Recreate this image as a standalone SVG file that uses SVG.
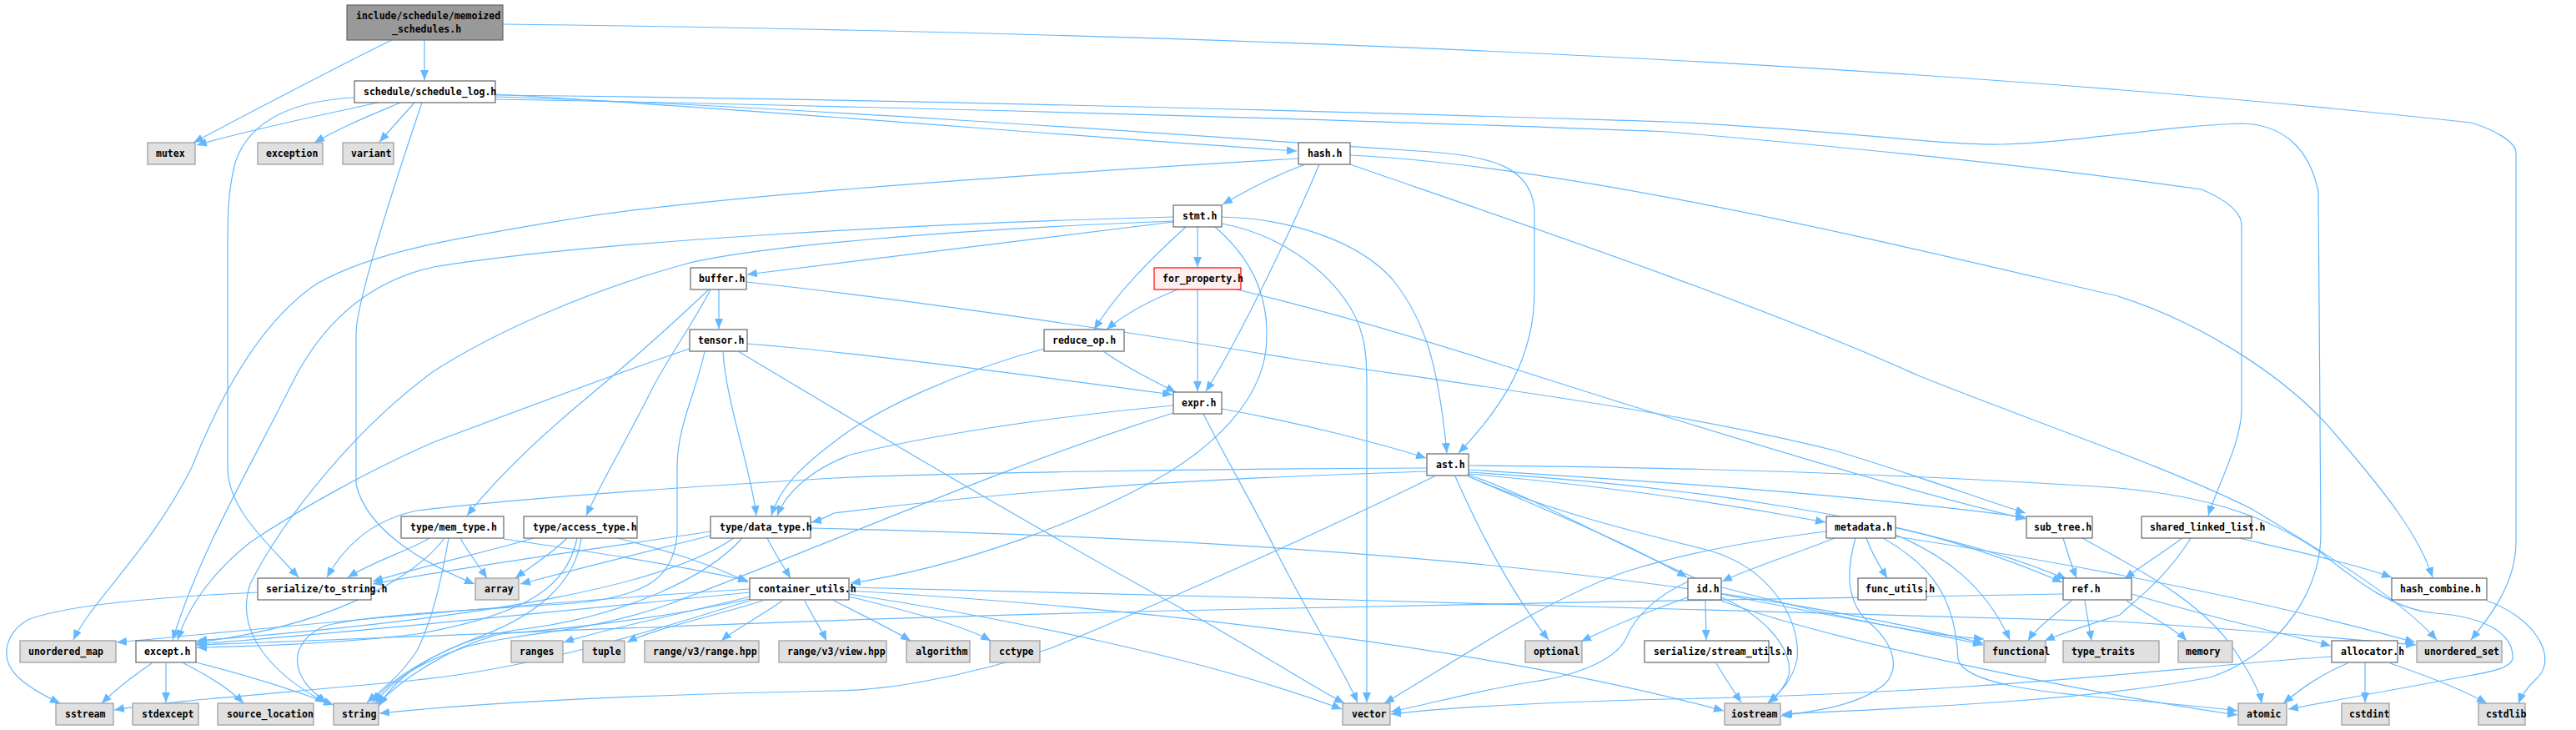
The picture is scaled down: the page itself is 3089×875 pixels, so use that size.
<svg xmlns="http://www.w3.org/2000/svg" width="3089" height="875" viewBox="0 0 3089 875">
<style>
.e{fill:none;stroke:#63b8ff;stroke-width:1.2;marker-end:url(#a)}
.w rect{fill:#ffffff;stroke:#666666;stroke-width:1.2}
.g rect{fill:#e0e0e0;stroke:#999999;stroke-width:1.2}
.r rect{fill:#999999;stroke:#666666;stroke-width:1.2}
.p rect{fill:#fff0f0;stroke:#ff0000;stroke-width:1.2}
text{font-family:"DejaVu Sans Mono","Liberation Mono",monospace;font-size:11.5px;font-weight:bold;fill:#000000}
</style>
<defs>
<marker id="a" viewBox="0 0 12 10" markerWidth="12" markerHeight="10" refX="12" refY="5" orient="auto" markerUnits="userSpaceOnUse"><path d="M0,0L12,5L0,10z" fill="#63b8ff"/></marker>
</defs>
<rect x="0" y="0" width="3089" height="875" fill="#ffffff"/>
<g id="edges">
<path class="e" d="M509,48 L509,96"/>
<path class="e" d="M470,48 C420,72 280,145 232,171"/>
<path class="e" d="M603,29 C1500,40 2300,75 2963,147 C2990,155 3017,170 3017,183 L3017,650 C3017,700 2985,740 2963,767"/>
<path class="e" d="M453,123 C400,135 300,155 236,174"/>
<path class="e" d="M480,123 C440,140 410,152 377,171"/>
<path class="e" d="M497,123 L455,170"/>
<path class="e" d="M425,117 C360,120 300,140 282,195 C273,230 273,260 273,300 L273,560 C273,610 320,650 358,692"/>
<path class="e" d="M506,123 C480,200 427,360 427,400 L427,580 C440,640 520,680 569,700"/>
<path class="e" d="M594,113 C900,130 1300,165 1555,181"/>
<path class="e" d="M594,116 C900,125 1400,160 1700,181 C1790,186 1835,200 1840,250 L1840,350 C1840,430 1800,490 1749,543"/>
<path class="e" d="M594,114 C1200,120 1800,140 2000,146 C2200,155 2330,175 2400,173 C2500,170 2600,150 2690,148 C2740,150 2770,180 2780,230 L2783,640 C2783,720 2720,790 2650,812 C2500,840 2300,848 2137,856"/>
<path class="e" d="M594,119 C1200,130 1800,150 2000,158 C2200,175 2450,200 2640,227 C2670,240 2688,255 2688,270 L2688,490 C2688,530 2660,580 2648,618"/>
<path class="e" d="M1565,197 C1530,210 1500,225 1466,245"/>
<path class="e" d="M1582,197 C1560,250 1490,400 1446,469"/>
<path class="e" d="M1557,190 C1300,205 900,230 700,260 C550,285 450,300 380,340 C320,380 270,460 230,560 C180,660 110,720 88,767"/>
<path class="e" d="M1619,186 C1900,200 2300,300 2540,355 C2650,390 2750,460 2800,520 C2860,590 2900,640 2917,692"/>
<path class="e" d="M1619,197 C1800,260 2100,360 2300,450 C2450,510 2600,560 2700,610 C2800,670 2880,720 2922,767"/>
<path class="e" d="M1407,266 C1200,290 1000,315 896,329"/>
<path class="e" d="M1436,272 L1436,320"/>
<path class="e" d="M1422,272 C1380,310 1340,350 1312,395"/>
<path class="e" d="M1407,260 C1100,268 700,290 520,320 C430,340 380,400 350,460 C300,560 240,660 207,767"/>
<path class="e" d="M1407,265 C1150,275 900,295 820,317 C700,350 590,400 520,445 C430,510 340,620 300,700 C280,760 330,810 390,842"/>
<path class="e" d="M1465,260 C1550,262 1630,290 1670,335 C1710,385 1725,440 1735,543"/>
<path class="e" d="M1465,268 C1530,280 1590,320 1620,370 C1638,400 1639,430 1639,460 L1639,842"/>
<path class="e" d="M1457,272 C1495,305 1525,350 1518,420 C1510,480 1460,530 1400,567 C1300,625 1150,680 1020,699"/>
<path class="e" d="M862,347 L862,394"/>
<path class="e" d="M850,347 C810,385 760,430 700,480 C640,530 590,580 560,618"/>
<path class="e" d="M852,347 C830,390 800,430 780,470 C750,530 720,580 703,618"/>
<path class="e" d="M895,338 C1100,360 1400,405 1550,430 C1750,460 2000,490 2200,540 C2300,570 2380,600 2429,615"/>
<path class="e" d="M1412,347 C1380,360 1350,375 1327,395"/>
<path class="e" d="M1436,347 L1436,469"/>
<path class="e" d="M1483,347 C1600,375 1700,405 1800,437 C1950,485 2250,580 2429,622"/>
<path class="e" d="M896,412 C1000,420 1200,445 1406,473"/>
<path class="e" d="M867,421 C870,480 900,560 907,618"/>
<path class="e" d="M885,421 C950,460 1200,610 1400,720 C1500,775 1560,815 1612,843"/>
<path class="e" d="M827,418 C760,440 600,500 520,530 C440,565 360,610 300,650 C250,690 225,730 213,767"/>
<path class="e" d="M845,421 C835,470 812,510 812,560 L812,640 C808,690 780,712 700,722 C600,730 450,735 390,750 C345,770 345,810 392,842"/>
<path class="e" d="M1252,418 C1150,445 1050,490 1000,530 C960,560 935,585 925,618"/>
<path class="e" d="M1323,421 C1350,440 1380,455 1410,470"/>
<path class="e" d="M1465,490 C1550,505 1650,530 1710,549"/>
<path class="e" d="M1407,486 C1250,500 1100,525 1020,545 C980,560 945,585 932,618"/>
<path class="e" d="M1443,496 C1470,550 1500,600 1530,660 C1570,740 1610,800 1628,842"/>
<path class="e" d="M1407,495 C1200,560 1000,650 800,725 C700,760 620,758 560,775 C500,795 470,815 450,843"/>
<path class="e" d="M1711,561 C1400,562 1100,568 1000,573 C800,585 600,600 500,612 C440,625 410,660 392,692"/>
<path class="e" d="M1711,565 C1400,575 1200,590 1000,615 C990,620 985,623 973,626"/>
<path class="e" d="M1720,571 C1600,630 1400,720 1260,777 C1150,815 1050,828 1000,828 C800,832 600,840 455,855"/>
<path class="e" d="M1761,568 C1900,580 2050,600 2189,626"/>
<path class="e" d="M1761,571 C1850,610 1950,650 2023,692"/>
<path class="e" d="M1745,571 C1780,650 1820,720 1857,767"/>
<path class="e" d="M1761,563 C1950,575 2200,590 2429,620"/>
<path class="e" d="M1761,566 C2000,580 2300,620 2478,694"/>
<path class="e" d="M1761,569 C1850,600 1950,660 2050,700 C2200,740 2300,760 2379,766"/>
<path class="e" d="M1761,558 C2100,560 2400,575 2540,585 C2650,595 2720,620 2780,660 C2830,700 2870,730 2920,735 C2990,740 3015,765 3013,790 C3010,800 2990,805 2960,810 C2880,825 2800,840 2744,850"/>
<path class="e" d="M1761,571 C1850,610 1950,635 2050,660 C2120,680 2160,740 2155,790 C2150,815 2135,830 2120,842"/>
<path class="e" d="M2200,645 C2150,665 2100,680 2065,697"/>
<path class="e" d="M2238,645 C2245,665 2255,680 2263,693"/>
<path class="e" d="M2273,632 C2350,650 2420,675 2473,698"/>
<path class="e" d="M2273,641 C2330,665 2380,700 2410,767"/>
<path class="e" d="M2225,645 C2215,680 2212,720 2240,745 C2270,770 2280,800 2260,820 C2230,845 2180,852 2136,858"/>
<path class="e" d="M2258,645 C2320,680 2345,720 2348,790 C2355,820 2450,830 2540,838 C2600,843 2650,848 2683,852"/>
<path class="e" d="M2190,637 C2100,648 2020,663 1950,685 C1850,720 1750,790 1660,843"/>
<path class="e" d="M2273,643 C2450,670 2700,715 2896,770"/>
<path class="e" d="M2045,720 L2046,767"/>
<path class="e" d="M2024,716 C1970,735 1930,752 1896,769"/>
<path class="e" d="M2064,712 C2200,740 2300,755 2378,773"/>
<path class="e" d="M2064,716 C2120,740 2150,780 2145,810 C2140,825 2130,835 2120,843"/>
<path class="e" d="M2064,720 C2200,770 2500,830 2683,857"/>
<path class="e" d="M2024,697 C1985,715 1960,740 1950,765 C1935,795 1880,812 1833,818 C1760,830 1710,845 1668,853"/>
<path class="e" d="M2058,795 C2070,815 2080,830 2088,842"/>
<path class="e" d="M2474,645 C2480,665 2485,680 2490,693"/>
<path class="e" d="M2497,645 C2560,680 2640,720 2680,780 C2700,810 2710,830 2712,843"/>
<path class="e" d="M2617,645 C2590,665 2565,680 2548,694"/>
<path class="e" d="M2685,645 C2750,660 2820,675 2868,692"/>
<path class="e" d="M2627,645 C2600,690 2560,720 2542,737 C2500,750 2470,760 2452,768"/>
<path class="e" d="M2484,720 C2460,740 2440,755 2432,768"/>
<path class="e" d="M2500,720 C2503,740 2506,755 2508,768"/>
<path class="e" d="M2550,720 C2580,740 2610,755 2622,768"/>
<path class="e" d="M2556,712 C2650,740 2740,760 2795,774"/>
<path class="e" d="M2474,712 C2200,718 1800,722 1500,730 C1000,740 600,760 236,773"/>
<path class="e" d="M2815,795 C2780,810 2760,825 2738,843"/>
<path class="e" d="M2836,795 L2836,842"/>
<path class="e" d="M2866,795 C2910,810 2950,825 2982,843"/>
<path class="e" d="M2796,787 C2600,800 2400,830 2000,838 C1800,843 1720,850 1668,856"/>
<path class="e" d="M2982,720 C3040,740 3070,790 3040,815 C3030,825 3023,835 3020,843"/>
<path class="e" d="M552,645 C560,660 572,675 584,693"/>
<path class="e" d="M515,645 C490,660 450,672 417,692"/>
<path class="e" d="M604,646 C700,660 800,675 897,696"/>
<path class="e" d="M533,645 C500,690 400,750 236,770"/>
<path class="e" d="M538,645 C530,690 520,740 500,780 C480,810 460,825 440,842"/>
<path class="e" d="M680,645 C660,665 635,680 618,693"/>
<path class="e" d="M640,645 C590,660 520,675 447,697"/>
<path class="e" d="M740,645 C800,660 850,675 897,698"/>
<path class="e" d="M692,645 C680,700 640,735 500,760 C400,772 300,775 236,776"/>
<path class="e" d="M697,645 C690,700 640,740 570,765 C520,785 470,810 447,842"/>
<path class="e" d="M920,645 C930,665 940,680 948,693"/>
<path class="e" d="M852,637 C700,660 550,680 447,700"/>
<path class="e" d="M852,642 C780,660 700,680 624,700"/>
<path class="e" d="M880,645 C800,700 600,740 236,768"/>
<path class="e" d="M890,645 C850,690 750,740 620,755 C550,765 480,800 455,846"/>
<path class="e" d="M972,633 C1500,645 2000,680 2378,771"/>
<path class="e" d="M900,715 C800,740 720,755 676,770"/>
<path class="e" d="M915,720 C850,740 780,755 752,770"/>
<path class="e" d="M938,720 C910,740 880,755 865,768"/>
<path class="e" d="M965,720 C975,740 985,755 991,768"/>
<path class="e" d="M1000,720 C1040,740 1070,755 1092,768"/>
<path class="e" d="M1018,715 C1100,735 1160,752 1188,768"/>
<path class="e" d="M899,710 C700,730 400,760 236,772"/>
<path class="e" d="M899,718 C800,740 700,752 600,760 C540,775 480,815 452,845"/>
<path class="e" d="M1018,712 C1200,740 1450,790 1609,850"/>
<path class="e" d="M1018,708 C1400,730 1800,780 2067,852"/>
<path class="e" d="M1018,704 C1500,715 2200,735 2540,745 C2700,755 2800,765 2897,773"/>
<path class="e" d="M899,706 C600,725 300,755 140,770"/>
<path class="e" d="M899,720 C800,750 650,800 500,815 C350,830 200,840 137,851"/>
<path class="e" d="M309,710 C200,715 80,725 33,743 C5,760 0,790 20,810 C35,825 55,835 72,843"/>
<path class="e" d="M182,795 C160,810 140,825 122,843"/>
<path class="e" d="M199,795 L199,842"/>
<path class="e" d="M220,795 C250,810 275,825 292,843"/>
<path class="e" d="M235,794 C300,810 360,830 400,845"/>
</g>
<g id="n-memoized" class="r"><rect x="416" y="6" width="187" height="42"/><text x="427" y="23">include/schedule/memoized</text><text x="470" y="39">_schedules.h</text></g>
<g id="n-schedule_log" class="w"><rect x="425" y="97" width="169" height="26"/><text x="436" y="114">schedule/schedule_log.h</text></g>
<g id="n-mutex" class="g"><rect x="177" y="171" width="57" height="26"/><text x="187" y="188">mutex</text></g>
<g id="n-exception" class="g"><rect x="309" y="171" width="78" height="26"/><text x="319" y="188">exception</text></g>
<g id="n-variant" class="g"><rect x="411" y="171" width="61" height="26"/><text x="421" y="188">variant</text></g>
<g id="n-hash" class="w"><rect x="1557" y="171" width="62" height="26"/><text x="1568" y="188">hash.h</text></g>
<g id="n-stmt" class="w"><rect x="1407" y="246" width="58" height="26"/><text x="1418" y="263">stmt.h</text></g>
<g id="n-buffer" class="w"><rect x="828" y="321" width="67" height="26"/><text x="838" y="338">buffer.h</text></g>
<g id="n-for_property" class="p"><rect x="1384" y="321" width="104" height="26"/><text x="1394" y="338">for_property.h</text></g>
<g id="n-tensor" class="w"><rect x="827" y="395" width="69" height="26"/><text x="837" y="412">tensor.h</text></g>
<g id="n-reduce_op" class="w"><rect x="1252" y="395" width="96" height="26"/><text x="1262" y="412">reduce_op.h</text></g>
<g id="n-expr" class="w"><rect x="1407" y="470" width="58" height="26"/><text x="1417" y="487">expr.h</text></g>
<g id="n-ast" class="w"><rect x="1711" y="544" width="50" height="26"/><text x="1722" y="561">ast.h</text></g>
<g id="n-mem_type" class="w"><rect x="481" y="619" width="123" height="26"/><text x="492" y="636">type/mem_type.h</text></g>
<g id="n-access_type" class="w"><rect x="628" y="619" width="136" height="26"/><text x="639" y="636">type/access_type.h</text></g>
<g id="n-data_type" class="w"><rect x="852" y="619" width="120" height="26"/><text x="863" y="636">type/data_type.h</text></g>
<g id="n-metadata" class="w"><rect x="2190" y="619" width="83" height="26"/><text x="2200" y="636">metadata.h</text></g>
<g id="n-sub_tree" class="w"><rect x="2430" y="619" width="79" height="26"/><text x="2439" y="636">sub_tree.h</text></g>
<g id="n-shared_linked_list" class="w"><rect x="2568" y="619" width="132" height="26"/><text x="2578" y="636">shared_linked_list.h</text></g>
<g id="n-to_string" class="w"><rect x="309" y="693" width="136" height="26"/><text x="319" y="710">serialize/to_string.h</text></g>
<g id="n-array" class="g"><rect x="570" y="693" width="52" height="26"/><text x="581" y="710">array</text></g>
<g id="n-container_utils" class="w"><rect x="899" y="693" width="119" height="26"/><text x="909" y="710">container_utils.h</text></g>
<g id="n-id" class="w"><rect x="2024" y="693" width="40" height="26"/><text x="2034" y="710">id.h</text></g>
<g id="n-func_utils" class="w"><rect x="2228" y="693" width="82" height="26"/><text x="2237" y="710">func_utils.h</text></g>
<g id="n-ref" class="w"><rect x="2474" y="693" width="82" height="26"/><text x="2484" y="710">ref.h</text></g>
<g id="n-hash_combine" class="w"><rect x="2868" y="693" width="114" height="26"/><text x="2878" y="710">hash_combine.h</text></g>
<g id="n-unordered_map" class="g"><rect x="24" y="768" width="115" height="26"/><text x="34" y="785">unordered_map</text></g>
<g id="n-except" class="w"><rect x="163" y="768" width="72" height="26"/><text x="173" y="785">except.h</text></g>
<g id="n-ranges" class="g"><rect x="613" y="768" width="62" height="26"/><text x="623" y="785">ranges</text></g>
<g id="n-tuple" class="g"><rect x="699" y="768" width="50" height="26"/><text x="710" y="785">tuple</text></g>
<g id="n-range_hpp" class="g"><rect x="773" y="768" width="137" height="26"/><text x="783" y="785">range/v3/range.hpp</text></g>
<g id="n-view_hpp" class="g"><rect x="934" y="768" width="129" height="26"/><text x="944" y="785">range/v3/view.hpp</text></g>
<g id="n-algorithm" class="g"><rect x="1087" y="768" width="76" height="26"/><text x="1098" y="785">algorithm</text></g>
<g id="n-cctype" class="g"><rect x="1187" y="768" width="60" height="26"/><text x="1198" y="785">cctype</text></g>
<g id="n-optional" class="g"><rect x="1829" y="768" width="68" height="26"/><text x="1839" y="785">optional</text></g>
<g id="n-stream_utils" class="w"><rect x="1972" y="768" width="149" height="26"/><text x="1983" y="785">serialize/stream_utils.h</text></g>
<g id="n-functional" class="g"><rect x="2379" y="768" width="74" height="26"/><text x="2389" y="785">functional</text></g>
<g id="n-type_traits" class="g"><rect x="2474" y="768" width="115" height="26"/><text x="2484" y="785">type_traits</text></g>
<g id="n-memory" class="g"><rect x="2612" y="768" width="65" height="26"/><text x="2621" y="785">memory</text></g>
<g id="n-allocator" class="w"><rect x="2796" y="768" width="79" height="26"/><text x="2807" y="785">allocator.h</text></g>
<g id="n-unordered_set" class="g"><rect x="2898" y="768" width="102" height="26"/><text x="2907" y="785">unordered_set</text></g>
<g id="n-sstream" class="g"><rect x="67" y="843" width="69" height="26"/><text x="78" y="860">sstream</text></g>
<g id="n-stdexcept" class="g"><rect x="159" y="843" width="79" height="26"/><text x="170" y="860">stdexcept</text></g>
<g id="n-source_location" class="g"><rect x="261" y="843" width="115" height="26"/><text x="272" y="860">source_location</text></g>
<g id="n-string" class="g"><rect x="400" y="843" width="54" height="26"/><text x="410" y="860">string</text></g>
<g id="n-vector" class="g"><rect x="1610" y="843" width="57" height="26"/><text x="1621" y="860">vector</text></g>
<g id="n-iostream" class="g"><rect x="2068" y="843" width="67" height="26"/><text x="2076" y="860">iostream</text></g>
<g id="n-atomic" class="g"><rect x="2684" y="843" width="58" height="26"/><text x="2694" y="860">atomic</text></g>
<g id="n-cstdint" class="g"><rect x="2808" y="843" width="57" height="26"/><text x="2817" y="860">cstdint</text></g>
<g id="n-cstdlib" class="g"><rect x="2972" y="843" width="56" height="26"/><text x="2981" y="860">cstdlib</text></g>
</svg>
